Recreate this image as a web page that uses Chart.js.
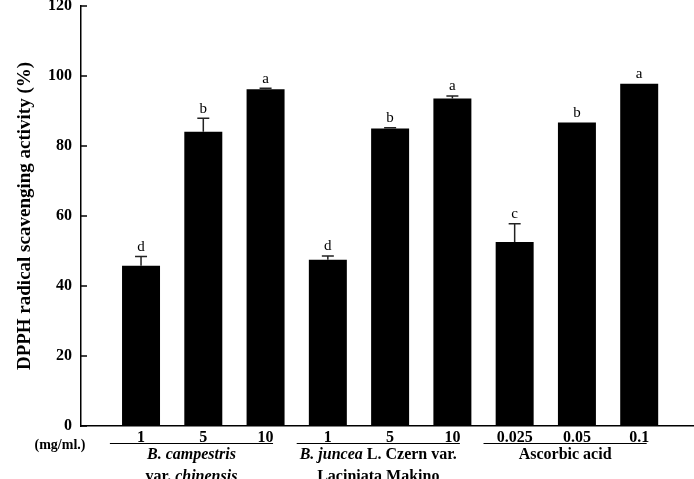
<!DOCTYPE html>
<html>
<head>
<meta charset="utf-8">
<script src="https://cdn.jsdelivr.net/npm/chart.js@4"></script>
<style>
  body { margin: 0; background: #fff; }
  #wrap { width: 694px; height: 479px; }
</style>
</head>
<body>
<div id="wrap"><canvas id="dpph-chart" width="694" height="479"></canvas></div>
<script>
// dose labels, mean activity (%), SD and significance letters
const doses = ['1', '5', '10', '1', '5', '10', '0.025', '0.05', '0.1'];
const activity = [45.8, 84.1, 96.2, 47.5, 85.0, 93.6, 52.6, 86.7, 97.8];
const sd = [2.6, 3.8, 0.3, 1.1, 0.2, 0.7, 5.2, 0, 0];
const letters = ['d', 'b', 'a', 'd', 'b', 'a', 'c', 'b', 'a'];

// sample groups: first/last bar (1-based) and label lines (i = italic)
const groupFirst = [1, 4, 7];
const groupLast = [3, 6, 9];
const groupLines = [
    [[{ t: 'B. campestris', i: true }], [{ t: 'var. ', i: false }, { t: 'chinensis', i: true }]],
    [[{ t: 'B. juncea', i: true }, { t: ' L. Czern var.', i: false }], [{ t: 'Laciniata Makino', i: false }]],
    [[{ t: 'Ascorbic acid', i: false }]]
];

const serif = '"Liberation Serif", "Times New Roman", serif';

// error bars, letters, inner y ticks, group underlines and names
const extras = {
    id: 'extras',
    afterDatasetsDraw(chart) {
        const ctx = chart.ctx;
        const xs = chart.scales.x;
        const ys = chart.scales.y;
        const meta = chart.getDatasetMeta(0);
        ctx.save();

        // y ticks pointing into the plot
        ctx.strokeStyle = '#000';
        ctx.lineWidth = 1.5;
        ys.ticks.forEach(t => {
            const py = ys.getPixelForValue(t.value);
            ctx.beginPath();
            ctx.moveTo(chart.chartArea.left, py);
            ctx.lineTo(chart.chartArea.left + 6, py);
            ctx.stroke();
        });

        // error bars + letters
        ctx.strokeStyle = '#222';
        ctx.lineWidth = 1.5;
        ctx.fillStyle = '#000';
        ctx.font = '15px ' + serif;
        ctx.textAlign = 'center';
        ctx.textBaseline = 'bottom';
        meta.data.forEach((bar, i) => {
            const top = ys.getPixelForValue(activity[i] + sd[i]);
            if (sd[i] > 0) {
                ctx.beginPath();
                ctx.moveTo(bar.x, bar.y);
                ctx.lineTo(bar.x, top);
                ctx.moveTo(bar.x - 6, top);
                ctx.lineTo(bar.x + 6, top);
                ctx.stroke();
            }
            ctx.fillText(letters[i], bar.x, top - 2);
        });

        // group underlines and names
        const lineY = chart.chartArea.bottom + 17.5;
        ctx.strokeStyle = '#000';
        ctx.lineWidth = 1.2;
        groupFirst.forEach((f, g) => {
            const x0 = xs.getPixelForValue(f - 0.5);
            const x1 = xs.getPixelForValue(groupLast[g] + 0.12);
            ctx.beginPath();
            ctx.moveTo(x0, lineY);
            ctx.lineTo(x1, lineY);
            ctx.stroke();
            const cx = (x0 + x1) / 2;
            groupLines[g].forEach((segs, li) => {
                const y = lineY + 11 + li * 22;
                let w = 0;
                segs.forEach(s => {
                    ctx.font = (s.i ? 'italic bold ' : 'bold ') + '16px ' + serif;
                    w += ctx.measureText(s.t).width;
                });
                let x = cx - w / 2;
                ctx.textAlign = 'left';
                ctx.textBaseline = 'middle';
                segs.forEach(s => {
                    ctx.font = (s.i ? 'italic bold ' : 'bold ') + '16px ' + serif;
                    ctx.fillText(s.t, x, y);
                    x += ctx.measureText(s.t).width;
                });
            });
        });

        // unit label left of the dose row
        ctx.font = 'bold 14px ' + serif;
        ctx.textAlign = 'center';
        ctx.textBaseline = 'middle';
        ctx.fillText('(mg/ml.)', 60, lineY + 2);

        ctx.restore();
    }
};

const canvas = document.getElementById('dpph-chart');
const ctx = canvas.getContext('2d');

var chart = new Chart(ctx, {
    type: 'bar',
    data: {
        datasets: [
            {
                label: 'DPPH radical scavenging activity',
                data: activity.map((v, i) => ({ x: i + 1, y: v })),
                backgroundColor: '#000',
                borderWidth: 0,
                barPercentage: 0.61,
                categoryPercentage: 1,
            },
        ],
    },
    options: {
        responsive: false,
        animation: false,
        layout: { padding: { top: 6, right: 0, bottom: 0, left: 0 } },
        plugins: {
            legend: { display: false },
            tooltip: { enabled: false },
        },
        scales: {
            x: {
                type: 'linear',
                offset: false,
                min: 0.036,
                max: 9.88,
                grid: { display: false, drawTicks: false, offset: false },
                border: { color: '#000', width: 1.5 },
                afterBuildTicks: axis => {
                    axis.ticks = doses.map((d, i) => ({ value: i + 1 }));
                },
                afterFit: axis => { axis.height = 53; },
                ticks: {
                    autoSkip: false,
                    maxRotation: 0,
                    padding: 2,
                    color: '#000',
                    font: { family: serif, size: 16, weight: 'bold' },
                    callback: v => doses[v - 1],
                },
            },
            y: {
                min: 0,
                max: 120,
                grid: { display: false, drawTicks: false },
                border: { color: '#000', width: 1.5 },
                afterFit: axis => {
                    axis.width = 81;
                    axis.paddingTop = 0;
                    axis.paddingBottom = 0;
                },
                ticks: {
                    stepSize: 20,
                    padding: 9,
                    color: '#000',
                    font: { family: serif, size: 16, weight: 'bold' },
                },
                title: {
                    display: true,
                    text: 'DPPH radical scavenging activity (%)',
                    color: '#000',
                    font: { family: serif, size: 19, weight: 'bold' },
                    padding: { top: 14, bottom: 0 },
                },
            },
        },
    },
    plugins: [extras],
});
</script>
</body>
</html>
